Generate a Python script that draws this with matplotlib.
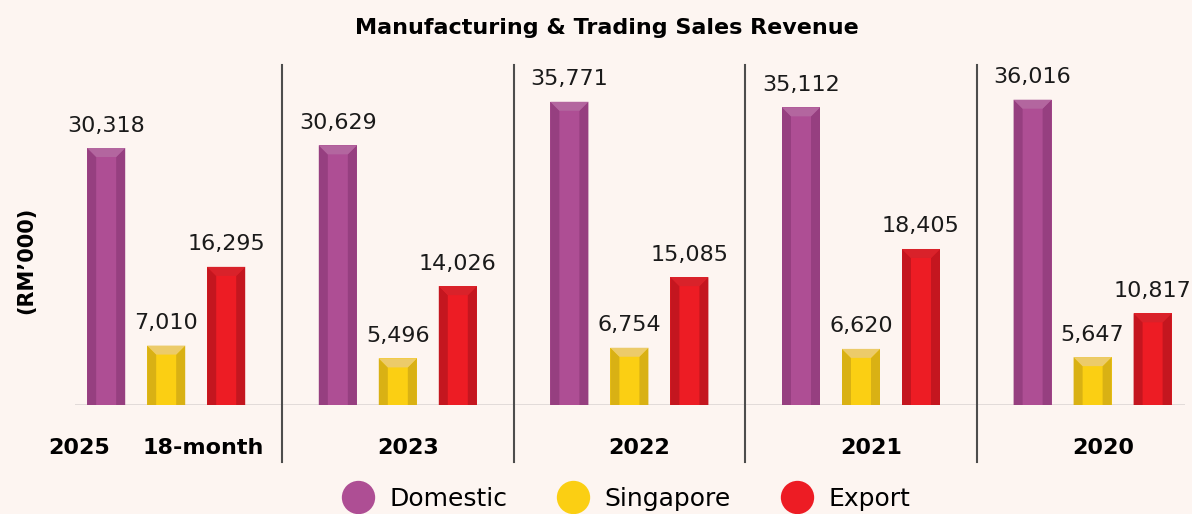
import numpy as np
import matplotlib.pyplot as plt
from matplotlib.patches import Polygon
from matplotlib.lines import Line2D

# ---------------------------------------------------------------------------
# Data (RM'000)

periods   = ["2025  18-month", "2023", "2022", "2021", "2020"]
domestic  = [30318, 30629, 35771, 35112, 36016]
singapore = [7010, 5496, 6754, 6620, 5647]
export    = [16295, 14026, 15085, 18405, 10817]

series = [
    ("Domestic",  domestic,  "#AE4E94", "#963F80", "#B3669F"),
    ("Singapore", singapore, "#FBCF13", "#D9B114", "#ECCB6A"),
    ("Export",    export,    "#ED1C24", "#C4161F", "#D9222A"),
]

BG = "#FDF5F1"
GROUP_GAP = 3.86
BAR_W = 38 / 60

# ---------------------------------------------------------------------------

fig = plt.figure(figsize=(11.92, 5.14), dpi=100, facecolor=BG)
ax = fig.add_axes([75 / 1192, 109 / 514, 1110 / 1192, 345 / 514])
ax.set_facecolor(BG)

centers = np.arange(len(periods)) * GROUP_GAP
ymax = 40700
bevel_y = ymax * 9 / 345
side_x = BAR_W * 9 / 38

for k, (name, vals, main, side, top) in enumerate(series):
    xs = centers + (k - 1)
    bars = ax.bar(xs, vals, width=BAR_W, color=main, zorder=2)
    for bar, v in zip(bars, vals):
        x0 = bar.get_x()
        x1 = x0 + bar.get_width()
        h = bar.get_height()
        ax.add_patch(Polygon([(x0, 0), (x0, h), (x0 + side_x, h - bevel_y), (x0 + side_x, 0)],
                             closed=True, color=side, lw=0, zorder=3))
        ax.add_patch(Polygon([(x1, 0), (x1, h), (x1 - side_x, h - bevel_y), (x1 - side_x, 0)],
                             closed=True, color=side, lw=0, zorder=3))
        ax.add_patch(Polygon([(x0, h), (x1, h), (x1 - side_x, h - bevel_y), (x0 + side_x, h - bevel_y)],
                             closed=True, color=top, lw=0, zorder=3))
        ax.annotate(f"{v:,}", (x0 + BAR_W / 2, h), xytext=(0, 9), textcoords="offset points",
                    ha="center", va="bottom", fontsize=16, color="#1a1a1a")

# baseline + separators
ax.axhline(0, color="#E0D9D7", lw=1.3, zorder=1)
for i in range(len(periods) - 1):
    xm = (centers[i] + centers[i + 1]) / 2
    ax.axvline(xm, ymin=-0.165, ymax=0.986, color="#4d4d4d", lw=1.5, clip_on=False)

ax.set_xlim(centers[0] - 1.52, centers[0] - 1.52 + 1110 / 60)
ax.set_ylim(0, ymax)
ax.axis("off")

# period labels
label_y = -43 / 345
ax.text(centers[0] - 1.45, label_y, "2025", transform=ax.get_xaxis_transform(),
        ha="center", va="center", fontsize=16, fontweight="bold")
ax.text(centers[0] + 0.62, label_y, "18-month", transform=ax.get_xaxis_transform(),
        ha="center", va="center", fontsize=16, fontweight="bold")
for c, p in zip(centers[1:], periods[1:]):
    ax.text(c + 0.17, label_y, p, transform=ax.get_xaxis_transform(),
            ha="center", va="center", fontsize=16, fontweight="bold")

fig.text(607 / 1192, 1 - 28 / 514, "Manufacturing & Trading Sales Revenue",
         ha="center", va="center", fontsize=16, fontweight="bold")
fig.text(26 / 1192, 1 - 260 / 514, "(RM\u2019000)", rotation=90,
         ha="center", va="center", fontsize=15, fontweight="bold")

handles = [Line2D([], [], marker="o", ls="", markersize=24, color=s[2], markeredgewidth=0)
           for s in series]
fig.legend(handles, [s[0] for s in series], loc="center", ncol=3,
           bbox_to_anchor=(624 / 1192, 1 - 499 / 514), frameon=False,
           fontsize=18, handlelength=1.6, handletextpad=0.45, columnspacing=1.85)

fig.savefig("out.png", dpi=100, facecolor=BG)
